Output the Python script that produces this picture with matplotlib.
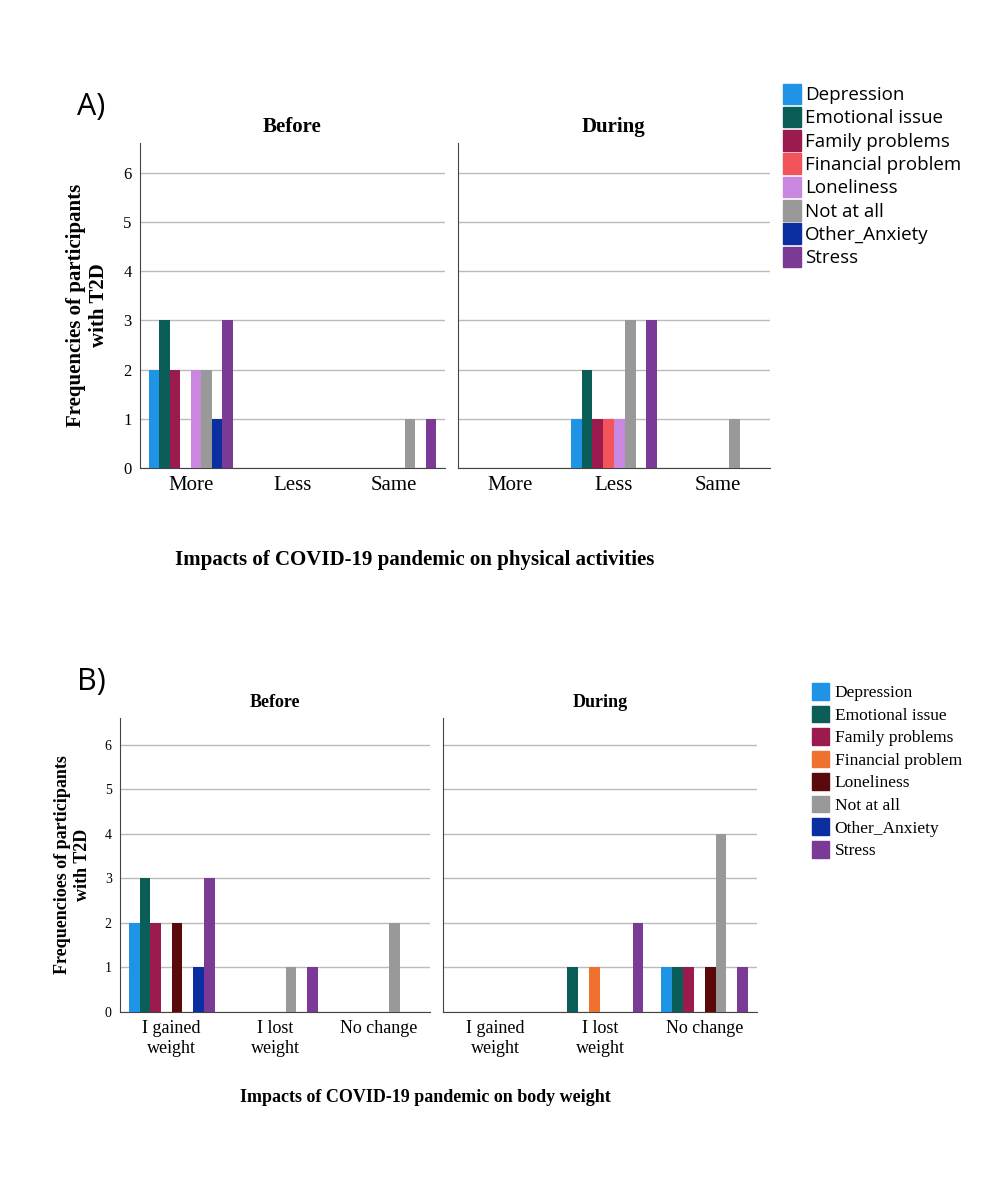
import matplotlib
matplotlib.use("Agg")
import matplotlib.pyplot as plt
import numpy as np
from matplotlib.patches import Patch

series = ["Depression", "Emotional issue", "Family problems", "Financial problem",
          "Loneliness", "Not at all", "Other_Anxiety", "Stress"]
colors_a = ["#1f93e6", "#0b5e58", "#9b1b4f", "#f2545b", "#c987e0", "#999999", "#0b2fa0", "#7b3a96"]
colors_b = ["#1f93e6", "#0b5e58", "#9b1b4f", "#f07030", "#5a0a0a", "#999999", "#0b2fa0", "#7b3a96"]

cats_a = ["More", "Less", "Same"]
a_before = {"More": [2, 3, 2, 0, 2, 2, 1, 3], "Less": [0]*8, "Same": [0, 0, 0, 0, 0, 1, 0, 1]}
a_during = {"More": [0]*8, "Less": [1, 2, 1, 1, 1, 3, 0, 3], "Same": [0, 0, 0, 0, 0, 1, 0, 0]}

cats_b = ["I gained\nweight", "I lost\nweight", "No change"]
b_before = {cats_b[0]: [2, 3, 2, 0, 2, 0, 1, 3], cats_b[1]: [0, 0, 0, 0, 0, 1, 0, 1], cats_b[2]: [0, 0, 0, 0, 0, 2, 0, 0]}
b_during = {cats_b[0]: [0]*8, cats_b[1]: [0, 1, 0, 1, 0, 0, 0, 2], cats_b[2]: [1, 1, 1, 0, 1, 4, 0, 1]}

W, H = 1000, 1193
fig = plt.figure(figsize=(10, 11.93), dpi=100)
serif = "Liberation Serif"

def ax_at(x0, x1, ytop, ybot):
    return fig.add_axes([x0 / W, 1 - ybot / H, (x1 - x0) / W, (ybot - ytop) / H])

def draw(ax, cats, data, colors, title, left, fs):
    n = len(series)
    bw = 0.83 / n
    for i, c in enumerate(cats):
        for j in range(n):
            v = data[c][j]
            if v > 0:
                ax.bar(i - 0.415 + bw * (j + 0.5), v, bw, color=colors[j], edgecolor="none", zorder=3)
    ax.set_xlim(-0.5, 2.5)
    ax.set_ylim(0, 6.6)
    ax.set_yticks(range(7))
    ax.grid(axis="y", color="#bbbbbb", lw=1, zorder=0)
    ax.set_xticks(range(3))
    ax.set_xticklabels(cats, family=serif, fontsize=fs)
    ax.tick_params(length=0, pad=6)
    for s in ["top", "right"]:
        ax.spines[s].set_visible(False)
    ax.spines["left"].set_color("#444444")
    ax.spines["bottom"].set_color("#444444")
    if left:
        ax.set_yticklabels([str(i) for i in range(7)], family=serif, fontsize=fs - 3)
    else:
        ax.set_yticklabels([])
    ax.set_title(title, family=serif, fontweight="bold", fontsize=fs, pad=8)

# Panel A
a1 = ax_at(140, 445, 143, 468)
a2 = ax_at(458, 770, 143, 468)
draw(a1, cats_a, a_before, colors_a, "Before", True, 15)
draw(a2, cats_a, a_during, colors_a, "During", False, 15)
a1.set_ylabel("Frequencies of participants\nwith T2D", family=serif, fontweight="bold", fontsize=15, labelpad=10)
fig.text(0.077, 1 - 115 / H, "A)", fontsize=22, family="Open Sans")
fig.text(415 / W, 1 - 560 / H, "Impacts of COVID-19 pandemic on physical activities",
         family=serif, fontweight="bold", fontsize=15, ha="center", va="center")
fig.legend([Patch(color=c) for c in colors_a], series, loc="upper left",
           bbox_to_anchor=(775 / W, 1 - 76 / H), frameon=False, fontsize=14,
           prop={"family": "Open Sans", "size": 13.5}, handlelength=1.0, handleheight=1.3,
           handletextpad=0.2, labelspacing=0.15, borderaxespad=0)

# Panel B
b1 = ax_at(120, 430, 718, 1012)
b2 = ax_at(443, 757, 718, 1012)
draw(b1, cats_b, b_before, colors_b, "Before", True, 13)
draw(b2, cats_b, b_during, colors_b, "During", False, 13)
b1.set_ylabel("Frequencioes of participants\nwith T2D", family=serif, fontweight="bold", fontsize=13, labelpad=10)
fig.text(0.077, 1 - 690 / H, "B)", fontsize=22, family="Open Sans")
fig.text(425 / W, 1 - 1097 / H, "Impacts of COVID-19 pandemic on body weight",
         family=serif, fontweight="bold", fontsize=13, ha="center", va="center")
fig.legend([Patch(color=c) for c in colors_b], series, loc="upper left",
           bbox_to_anchor=(805 / W, 1 - 676 / H), frameon=False,
           prop={"family": serif, "size": 12.5}, handlelength=1.0, handleheight=1.1,
           handletextpad=0.3, labelspacing=0.25, borderaxespad=0)

fig.savefig("out.png", dpi=100, facecolor="white")
